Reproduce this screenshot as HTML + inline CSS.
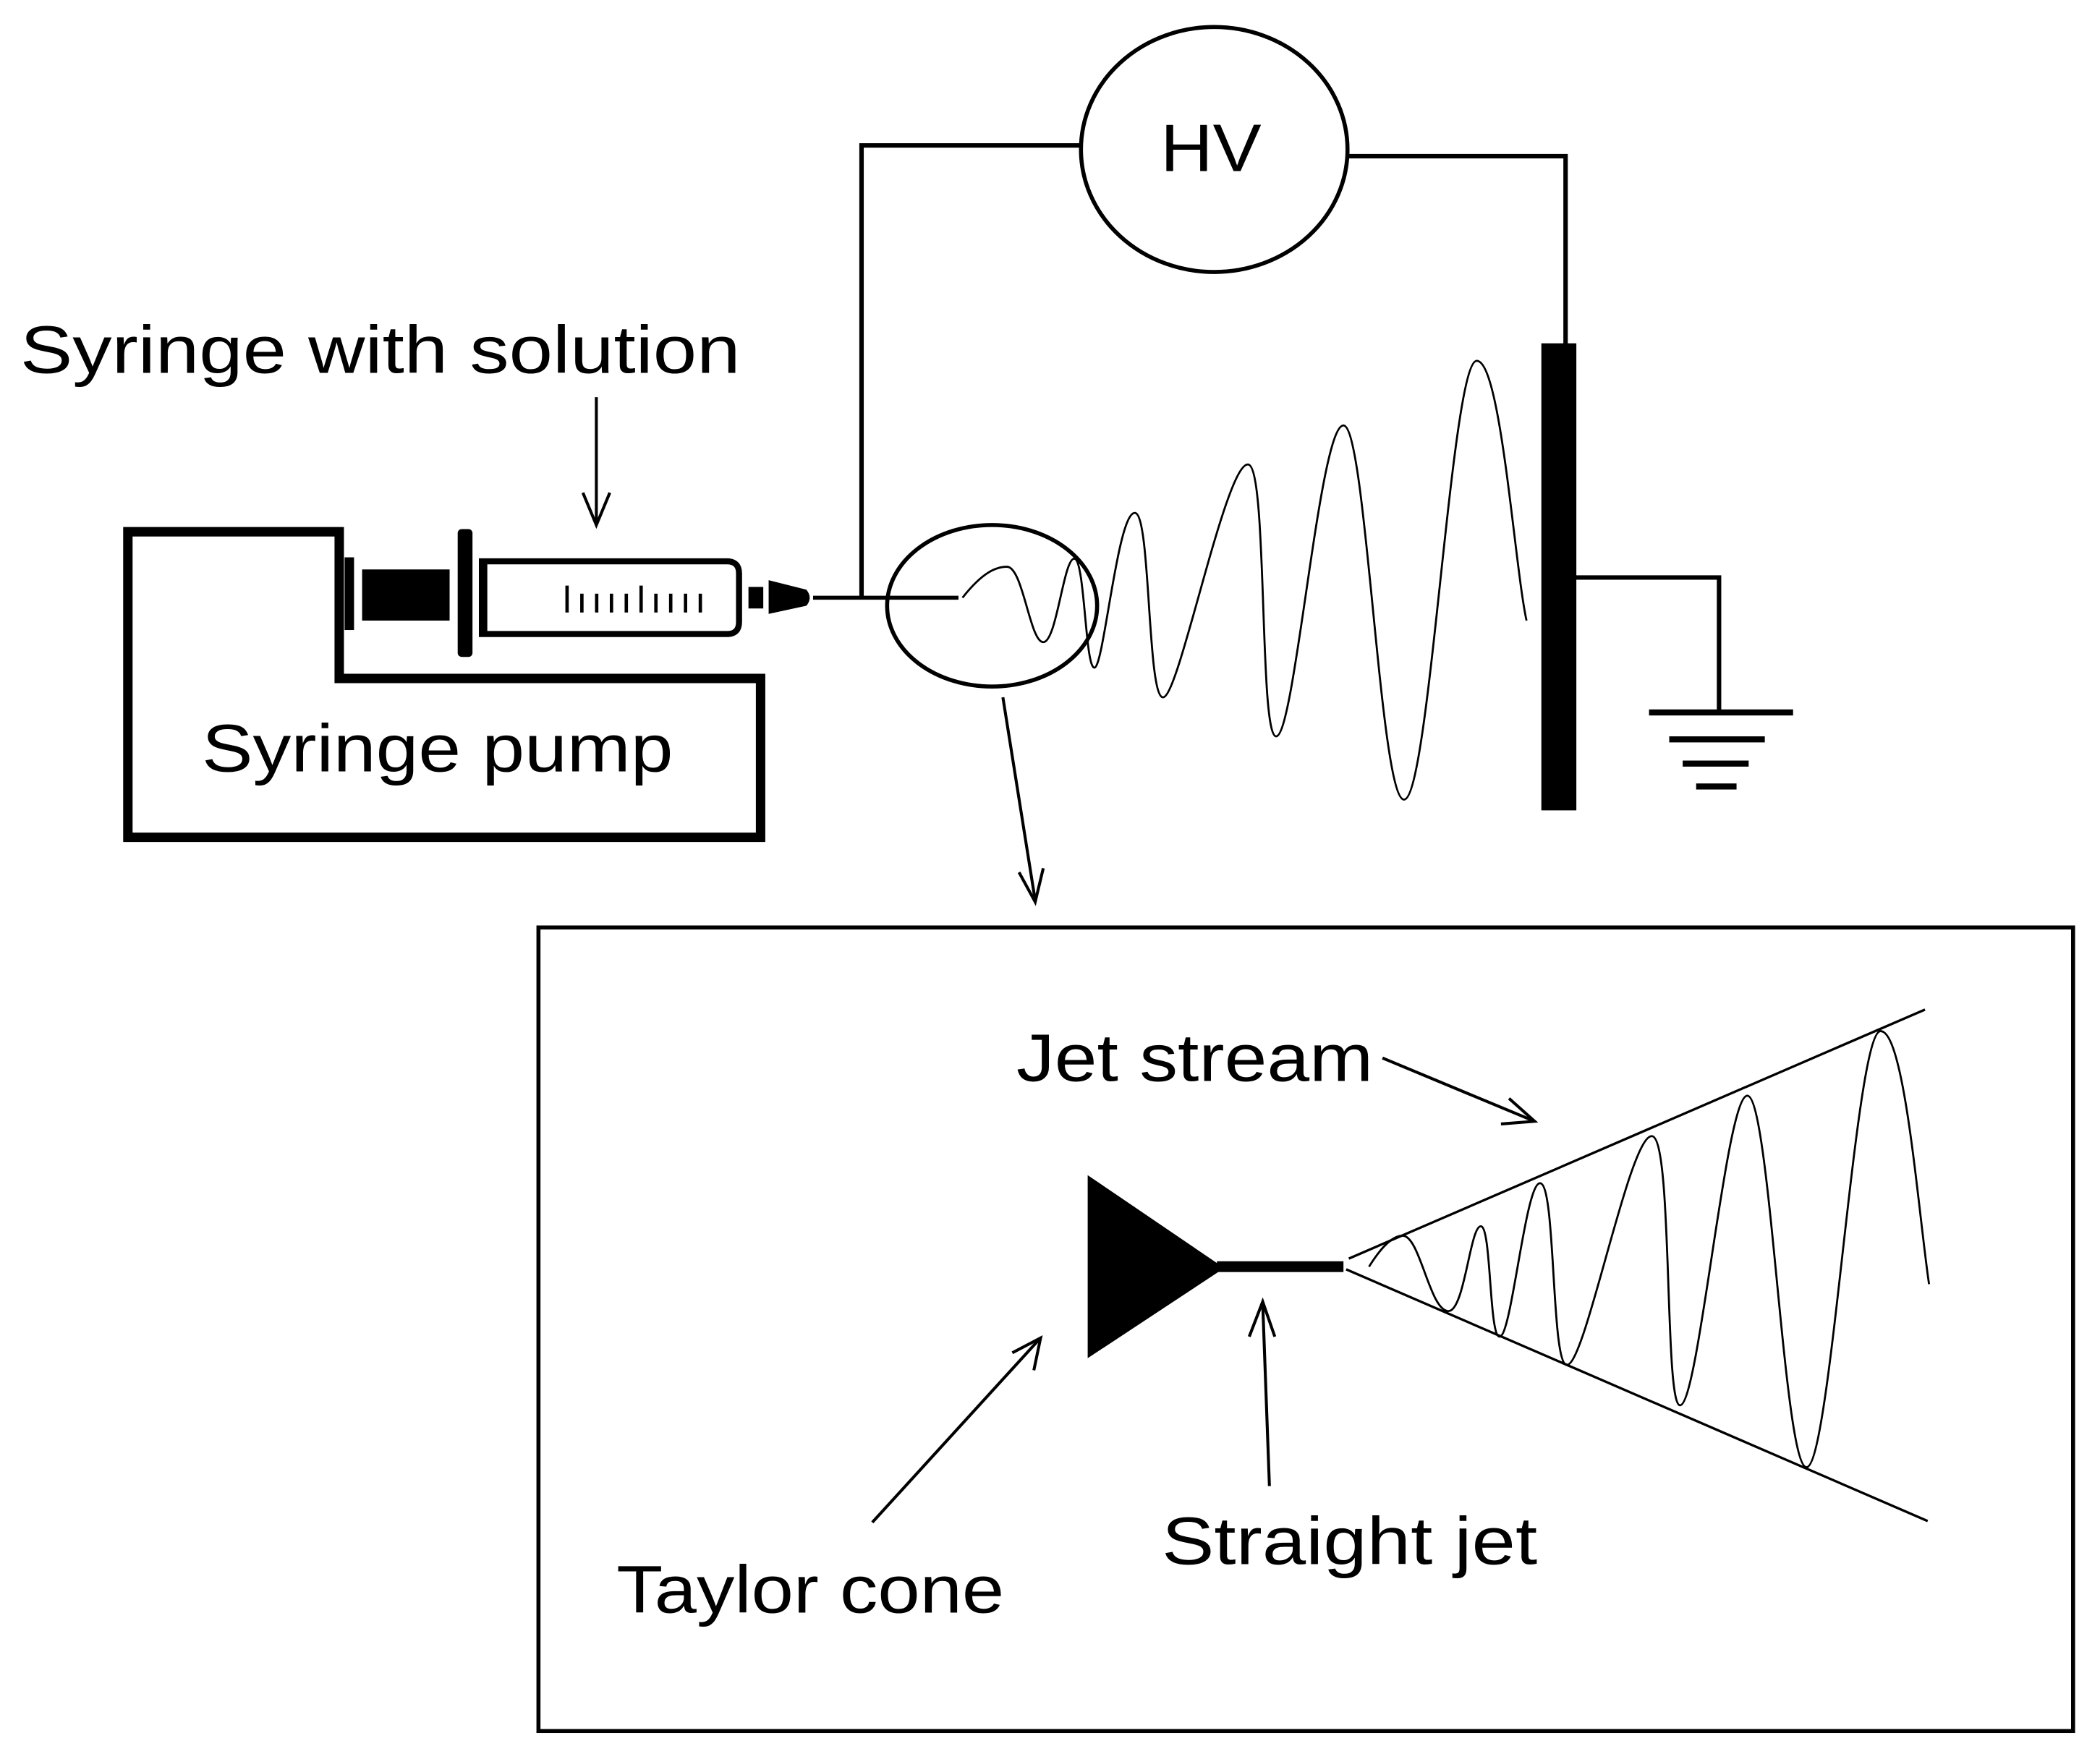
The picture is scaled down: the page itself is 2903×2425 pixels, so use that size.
<!DOCTYPE html>
<html><head><meta charset="utf-8"><style>
html,body{margin:0;padding:0;background:#fff;}
svg{display:block;}
text{font-family:"Liberation Sans",sans-serif;fill:#000;}
</style></head><body>
<svg width="2903" height="2425" viewBox="0 0 1560 1303" xmlns="http://www.w3.org/2000/svg">
<rect x="0" y="0" width="1560" height="1303" fill="#fff"/>
<g fill="none" stroke="#000" stroke-linejoin="miter">
<!-- pump -->
<path d="M95,395 H252 V504 H565 V622 H95 Z" stroke-width="7"/>
<!-- HV wires -->
<path d="M640,444 V108 H804" stroke-width="3.3"/>
<path d="M1002,116 H1163 V258" stroke-width="3.3"/>
<ellipse cx="902" cy="111" rx="99" ry="91" stroke-width="3"/>
<!-- ground -->
<path d="M1170,429 H1277 V529" stroke-width="3.3"/>
<!-- needle -->
<line x1="604" y1="444" x2="712" y2="444" stroke-width="3"/>
<!-- syringe barrel -->
<path d="M358,417 H540 Q549,417 549,426 V462 Q549,471 540,471 H358 Z" stroke-width="4.5"/>
<!-- ellipse small -->
<ellipse cx="737" cy="450" rx="78" ry="60" stroke-width="3"/>
<!-- arrows -->
<g stroke-width="2.2">
<line x1="443" y1="295" x2="443" y2="389"/><polyline points="433,366 443,390 453,366"/>
<line x1="745" y1="518" x2="769" y2="669"/><polyline points="757,648 769,670 775,645"/>
<line x1="1027" y1="786" x2="1140" y2="833"/><polyline points="1121,816 1140,833 1115,835"/>
<line x1="943" y1="1104" x2="938" y2="968"/><polyline points="928,993 938,967 947,993"/>
<line x1="648" y1="1131" x2="772" y2="995"/><polyline points="752,1005 773,994 768,1018"/>
</g>
<!-- bottom box -->
<rect x="400" y="689" width="1140" height="597" stroke-width="3"/>
<!-- cone lines -->
<line x1="1002" y1="935" x2="1430" y2="750" stroke-width="1.8"/>
<line x1="1000" y1="943" x2="1432" y2="1130" stroke-width="1.8"/>
<!-- upper wave -->
<path stroke-width="1.5" d="M715,444 C730,425 740,421 748,421 C760,421 765,477 775,477 C785,477 790,415 798,415 C806,415 806,496 813,496 C820,496 830,381 843,381 C855,381 852,518 864,518 C876,518 910,345 927,345 C942,345 935,547 948,547 C962,547 980,316 998,316 C1015,316 1025,594 1043,594 C1062,594 1078,268 1097,268 C1115,268 1125,420 1134,461"/>
<!-- lower wave -->
<path stroke-width="1.5" d="M1017,941 C1027,925 1035,918 1042,918 C1055,918 1062,974 1076,974 C1088,974 1092,911 1100,911 C1108,911 1106,993 1114,993 C1123,993 1133,879 1144,879 C1156,879 1152,1014 1164,1014 C1178,1014 1210,844 1227,844 C1243,844 1236,1044 1248,1044 C1262,1044 1282,814 1298,814 C1315,814 1325,1090 1342,1090 C1360,1090 1378,766 1397,766 C1415,766 1425,900 1433,954"/>
</g>
<g fill="#000" stroke="none">
<!-- plate -->
<rect x="1145" y="255" width="26" height="347"/>
<!-- ground bars -->
<rect x="1225" y="527" width="107" height="4.5"/>
<rect x="1240" y="547" width="71" height="4.5"/>
<rect x="1250" y="565" width="49" height="4.5"/>
<rect x="1260" y="582" width="30" height="4.5"/>
<!-- syringe parts -->
<rect x="256" y="414" width="7" height="54"/>
<rect x="269" y="423" width="65" height="38"/>
<rect x="340" y="393" width="11" height="95" rx="3"/>
<rect x="356" y="417" width="6" height="54"/>
<rect x="556" y="436" width="11" height="16"/>
<path d="M571,431 L599,438 Q604,444 599,450 L571,456 Z"/>
<!-- ticks -->
<rect x="420" y="435" width="2.5" height="20"/>
<rect x="431" y="441" width="2.5" height="14"/>
<rect x="442" y="441" width="2.5" height="14"/>
<rect x="453" y="441" width="2.5" height="14"/>
<rect x="464" y="441" width="2.5" height="14"/>
<rect x="475" y="435" width="2.5" height="20"/>
<rect x="486" y="441" width="2.5" height="14"/>
<rect x="497" y="441" width="2.5" height="14"/>
<rect x="508" y="441" width="2.5" height="14"/>
<rect x="519" y="441" width="2.5" height="14"/>
<!-- taylor cone -->
<path d="M808,873 L905,939 L905,945 L808,1009 Z"/>
<rect x="904" y="937" width="94" height="8"/>
</g>
<text x="15" y="277" font-size="50" textLength="535" lengthAdjust="spacingAndGlyphs">Syringe with solution</text>
<text x="150" y="573" font-size="50" textLength="350" lengthAdjust="spacingAndGlyphs">Syringe pump</text>
<text x="862" y="127" font-size="50" textLength="75" lengthAdjust="spacingAndGlyphs">HV</text>
<text x="755" y="803" font-size="50" textLength="265" lengthAdjust="spacingAndGlyphs">Jet stream</text>
<text x="863" y="1162" font-size="50" textLength="279" lengthAdjust="spacingAndGlyphs">Straight jet</text>
<text x="458" y="1198" font-size="50" textLength="288" lengthAdjust="spacingAndGlyphs">Taylor cone</text>
</svg>
</body></html>
